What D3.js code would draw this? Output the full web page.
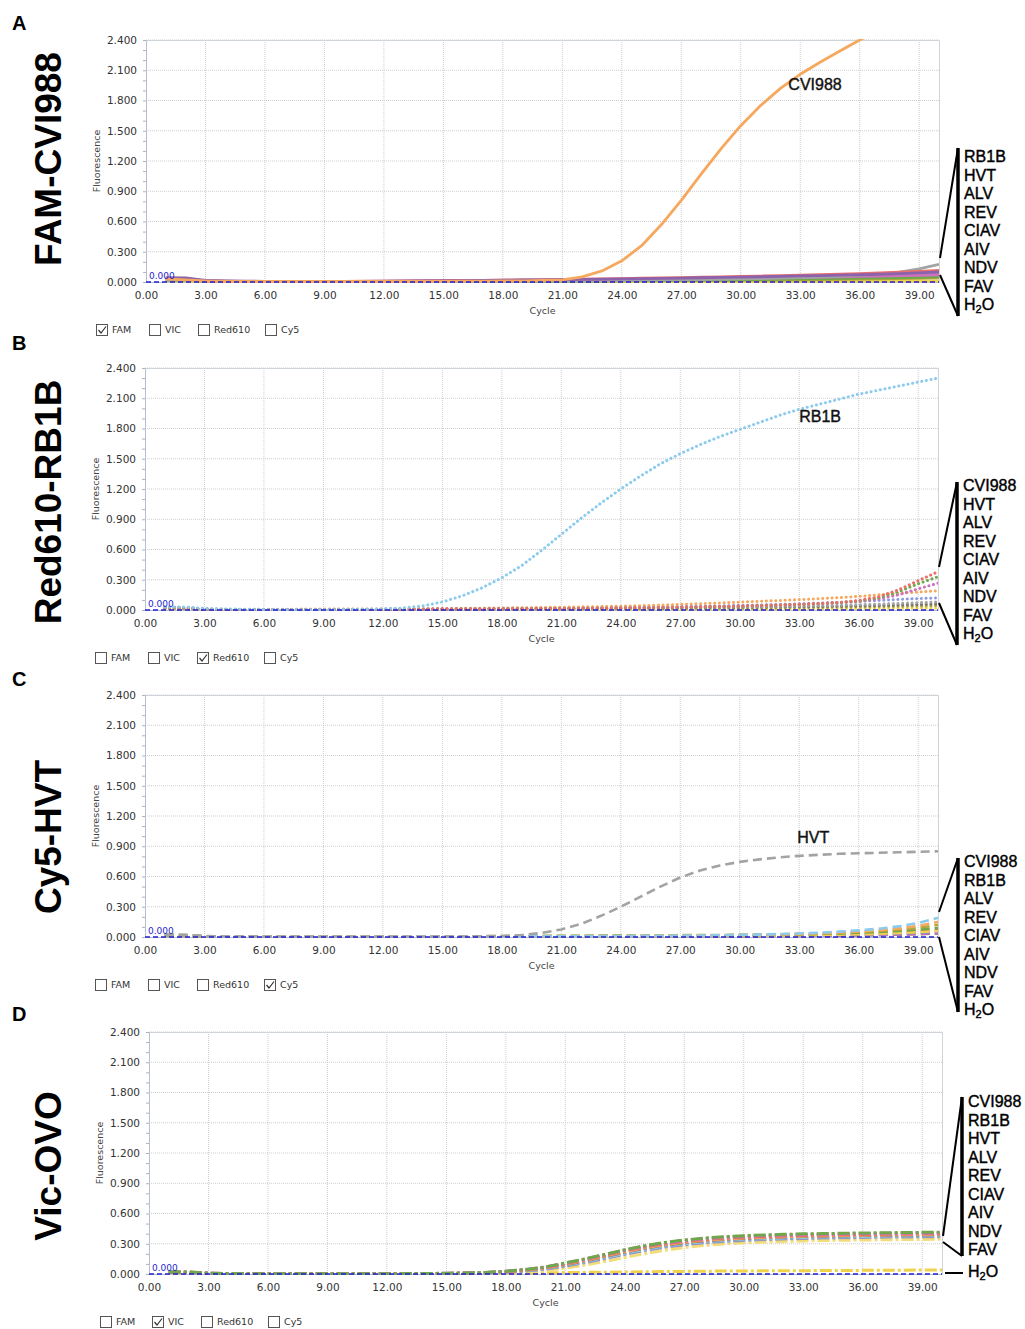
<!DOCTYPE html>
<html>
<head>
<meta charset="utf-8">
<script src="https://cdn.jsdelivr.net/npm/d3@7"></script>
<style>
  body { margin: 0; background: #fff; }
  svg { display: block; }
</style>
</head>
<body>
<svg id="fig" width="1025" height="1329"></svg>
<script>
// ---- data ----
var cycles = [1,2,3,4,5,6,7,8,9,10,11,12,13,14,15,16,17,18,19,20,
              21,22,23,24,25,26,27,28,29,30,31,32,33,34,35,36,37,38,39,40];
var xTicks = [0,3,6,9,12,15,18,21,24,27,30,33,36,39];
var yTicks = [0,0.3,0.6,0.9,1.2,1.5,1.8,2.1,2.4];
var yMinor = [0,0.1,0.2,0.3,0.4,0.5,0.6,0.7,0.8,0.9,1.0,1.1,1.2,1.3,1.4,1.5,1.6,1.7,1.8,1.9,2.0,2.1,2.2,2.3,2.4];
var channels = ["FAM", "VIC", "Red610", "Cy5"];

var colors = {
  CVI988: "#f5a85e", RB1B: "#8ccbed", HVT: "#a3a3a3", ALV: "#6fa84a", REV: "#e8706a",
  CIAV: "#8f86d0", AIV: "#cf6fbf", NDV: "#8a7560", FAV: "#b3a63a", H2O: "#f1d24c"
};

// A: FAM channel
var famCVI988 = [0.030,0.020,0.010,0.005,0.005,0.005,0.005,0.005,0.005,0.005,
  0.005,0.005,0.005,0.006,0.007,0.008,0.009,0.010,0.012,0.015,
  0.020,0.050,0.110,0.210,0.360,0.570,0.810,1.070,1.320,1.550,
  1.750,1.920,2.060,2.180,2.290,2.400,2.500,2.580,2.640,2.690];
var famRB1B = [0.040,0.040,0.015,0.010,0.008,0.007,0.006,0.006,0.006,0.006,
  0.007,0.008,0.009,0.010,0.012,0.014,0.016,0.018,0.020,0.022,
  0.024,0.026,0.028,0.030,0.033,0.036,0.039,0.042,0.045,0.048,
  0.052,0.056,0.060,0.064,0.068,0.072,0.077,0.083,0.090,0.100];
var famHVT = [0.020,0.020,0.010,0.005,0.004,0.003,0.003,0.003,0.003,0.003,
  0.003,0.003,0.003,0.004,0.005,0.006,0.007,0.008,0.009,0.010,
  0.011,0.012,0.013,0.015,0.017,0.019,0.021,0.024,0.027,0.030,
  0.034,0.038,0.043,0.049,0.056,0.065,0.078,0.098,0.130,0.175];
var famALV = [0.020,0.020,0.008,0.004,0.003,0.003,0.003,0.003,0.003,0.003,
  0.003,0.003,0.004,0.004,0.005,0.005,0.006,0.007,0.008,0.009,
  0.010,0.011,0.012,0.013,0.014,0.016,0.018,0.020,0.022,0.024,
  0.026,0.028,0.030,0.032,0.035,0.038,0.041,0.044,0.047,0.050];
var famREV = [0.040,0.035,0.012,0.008,0.007,0.006,0.006,0.006,0.006,0.007,
  0.008,0.009,0.010,0.011,0.013,0.015,0.017,0.019,0.021,0.023,
  0.025,0.028,0.031,0.034,0.037,0.040,0.043,0.047,0.051,0.055,
  0.059,0.063,0.068,0.073,0.078,0.084,0.090,0.097,0.105,0.115];
var famCIAV = [0.030,0.030,0.010,0.006,0.005,0.005,0.005,0.005,0.005,0.005,
  0.006,0.007,0.008,0.009,0.010,0.011,0.012,0.013,0.015,0.017,
  0.019,0.021,0.023,0.025,0.027,0.029,0.032,0.035,0.038,0.041,
  0.044,0.047,0.050,0.053,0.057,0.061,0.065,0.070,0.075,0.080];
var famAIV = [0.035,0.030,0.010,0.006,0.005,0.005,0.005,0.005,0.005,0.005,
  0.005,0.006,0.007,0.008,0.009,0.010,0.011,0.012,0.013,0.015,
  0.017,0.019,0.021,0.023,0.025,0.027,0.029,0.031,0.034,0.037,
  0.040,0.043,0.046,0.049,0.052,0.055,0.059,0.063,0.067,0.072];
var famNDV = [0.025,0.025,0.008,0.005,0.004,0.004,0.004,0.004,0.004,0.004,
  0.004,0.005,0.005,0.006,0.007,0.008,0.009,0.010,0.011,0.012,
  0.013,0.014,0.016,0.018,0.020,0.022,0.024,0.026,0.028,0.030,
  0.032,0.034,0.036,0.039,0.042,0.045,0.048,0.052,0.056,0.060];
var famFAV = [0.020,0.020,0.006,0.003,0.002,0.002,0.002,0.002,0.002,0.002,
  0.002,0.002,0.003,0.003,0.004,0.004,0.005,0.005,0.006,0.006,
  0.007,0.008,0.009,0.010,0.011,0.012,0.013,0.014,0.015,0.016,
  0.018,0.020,0.022,0.024,0.026,0.028,0.030,0.033,0.036,0.040];
var famH2O = [0.010,0.010,0.004,0.002,0.001,0.001,0.001,0.001,0.001,0.001,
  0.001,0.001,0.001,0.001,0.001,0.002,0.002,0.002,0.002,0.002,
  0.003,0.003,0.003,0.003,0.004,0.004,0.004,0.004,0.005,0.005,
  0.005,0.006,0.006,0.006,0.007,0.007,0.008,0.008,0.009,0.010];

// B: Red610 channel
var redRB1B = [0.030,0.030,0.015,0.010,0.008,0.006,0.006,0.006,0.006,0.006,
  0.008,0.010,0.020,0.040,0.080,0.140,0.220,0.320,0.440,0.590,
  0.750,0.910,1.060,1.200,1.330,1.450,1.550,1.640,1.720,1.790,
  1.860,1.930,1.990,2.040,2.090,2.140,2.180,2.220,2.260,2.300];
var redCVI988 = [0.020,0.020,0.010,0.008,0.008,0.008,0.008,0.009,0.009,0.010,
  0.010,0.011,0.012,0.013,0.014,0.016,0.018,0.020,0.022,0.025,
  0.028,0.031,0.034,0.038,0.043,0.049,0.056,0.063,0.070,0.078,
  0.086,0.094,0.103,0.112,0.122,0.135,0.150,0.165,0.178,0.190];
var redREV = [0.025,0.025,0.010,0.006,0.005,0.005,0.005,0.005,0.005,0.005,
  0.006,0.006,0.007,0.008,0.009,0.010,0.011,0.012,0.013,0.014,
  0.015,0.016,0.018,0.020,0.022,0.024,0.027,0.030,0.034,0.038,
  0.043,0.049,0.056,0.064,0.075,0.095,0.130,0.200,0.290,0.380];
var redALV = [0.020,0.020,0.008,0.005,0.004,0.004,0.004,0.004,0.004,0.004,
  0.005,0.005,0.006,0.007,0.008,0.009,0.010,0.011,0.012,0.013,
  0.014,0.015,0.017,0.019,0.021,0.023,0.026,0.029,0.033,0.037,
  0.042,0.048,0.055,0.063,0.073,0.090,0.120,0.180,0.260,0.330];
var redAIV = [0.025,0.020,0.008,0.005,0.004,0.004,0.004,0.004,0.004,0.005,
  0.005,0.006,0.007,0.008,0.009,0.010,0.011,0.012,0.013,0.014,
  0.015,0.016,0.018,0.020,0.022,0.025,0.028,0.031,0.035,0.039,
  0.044,0.050,0.056,0.063,0.072,0.085,0.110,0.150,0.210,0.265];
var redCIAV = [0.030,0.025,0.010,0.006,0.005,0.005,0.005,0.006,0.006,0.007,
  0.008,0.009,0.010,0.011,0.012,0.013,0.014,0.015,0.016,0.018,
  0.020,0.022,0.024,0.026,0.028,0.031,0.034,0.037,0.041,0.045,
  0.050,0.055,0.061,0.068,0.076,0.085,0.095,0.105,0.113,0.120];
var redHVT = [0.020,0.020,0.008,0.005,0.004,0.004,0.004,0.004,0.004,0.005,
  0.005,0.006,0.007,0.008,0.009,0.010,0.011,0.012,0.013,0.014,
  0.015,0.016,0.017,0.018,0.020,0.022,0.024,0.026,0.028,0.030,
  0.033,0.036,0.039,0.043,0.047,0.052,0.058,0.065,0.072,0.080];
var redNDV = [0.020,0.018,0.007,0.004,0.003,0.003,0.003,0.003,0.004,0.004,
  0.004,0.005,0.005,0.006,0.007,0.008,0.009,0.010,0.011,0.012,
  0.013,0.014,0.015,0.016,0.017,0.018,0.020,0.022,0.024,0.026,
  0.028,0.030,0.032,0.035,0.038,0.041,0.045,0.049,0.054,0.060];
var redFAV = [0.015,0.015,0.006,0.003,0.002,0.002,0.002,0.002,0.002,0.003,
  0.003,0.003,0.004,0.004,0.005,0.005,0.006,0.006,0.007,0.007,
  0.008,0.009,0.010,0.011,0.012,0.013,0.014,0.015,0.016,0.017,
  0.019,0.021,0.023,0.025,0.027,0.029,0.032,0.035,0.038,0.042];
var redH2O = [0.010,0.010,0.004,0.002,0.001,0.001,0.001,0.001,0.001,0.001,
  0.001,0.001,0.002,0.002,0.002,0.002,0.003,0.003,0.003,0.003,
  0.004,0.004,0.004,0.005,0.005,0.005,0.006,0.006,0.007,0.007,
  0.008,0.008,0.009,0.010,0.011,0.012,0.013,0.014,0.016,0.018];

// C: Cy5 channel
var cy5HVT = [0.020,0.020,0.010,0.005,0.004,0.003,0.003,0.003,0.003,0.003,
  0.003,0.003,0.003,0.003,0.004,0.005,0.007,0.010,0.020,0.040,
  0.075,0.130,0.210,0.300,0.400,0.500,0.590,0.660,0.710,0.745,
  0.770,0.790,0.805,0.815,0.825,0.830,0.835,0.840,0.845,0.850];
var cy5RB1B = [0.020,0.020,0.008,0.004,0.003,0.003,0.003,0.003,0.003,0.003,
  0.003,0.003,0.003,0.004,0.004,0.005,0.005,0.006,0.006,0.007,
  0.007,0.008,0.009,0.010,0.011,0.012,0.013,0.015,0.017,0.020,
  0.024,0.029,0.035,0.043,0.053,0.066,0.082,0.105,0.140,0.190];
var cy5CVI988 = [0.020,0.018,0.007,0.004,0.003,0.003,0.003,0.003,0.003,0.003,
  0.003,0.003,0.003,0.004,0.004,0.005,0.005,0.006,0.006,0.007,
  0.007,0.008,0.009,0.010,0.011,0.012,0.013,0.014,0.016,0.018,
  0.021,0.025,0.030,0.036,0.044,0.054,0.067,0.085,0.110,0.150];
var cy5FAV = [0.025,0.022,0.008,0.005,0.004,0.004,0.004,0.004,0.004,0.004,
  0.004,0.005,0.005,0.006,0.006,0.007,0.008,0.009,0.010,0.011,
  0.012,0.013,0.014,0.015,0.016,0.017,0.018,0.019,0.020,0.022,
  0.024,0.027,0.031,0.036,0.042,0.050,0.060,0.073,0.090,0.120];
var cy5ALV = [0.015,0.015,0.006,0.003,0.003,0.003,0.003,0.003,0.003,0.003,
  0.003,0.003,0.004,0.004,0.005,0.005,0.006,0.006,0.007,0.008,
  0.009,0.010,0.011,0.012,0.013,0.014,0.015,0.016,0.017,0.019,
  0.021,0.024,0.027,0.031,0.036,0.042,0.050,0.060,0.073,0.090];
var cy5REV = [0.015,0.015,0.006,0.003,0.003,0.003,0.003,0.003,0.003,0.003,
  0.003,0.003,0.003,0.004,0.004,0.004,0.005,0.005,0.006,0.006,
  0.007,0.007,0.008,0.009,0.010,0.011,0.012,0.013,0.014,0.015,
  0.017,0.019,0.021,0.024,0.028,0.033,0.039,0.046,0.057,0.070];
var cy5CIAV = [0.012,0.012,0.005,0.003,0.002,0.002,0.002,0.002,0.002,0.002,
  0.002,0.002,0.003,0.003,0.003,0.004,0.004,0.004,0.005,0.005,
  0.005,0.006,0.006,0.007,0.007,0.008,0.009,0.010,0.011,0.012,
  0.013,0.014,0.016,0.018,0.021,0.024,0.028,0.033,0.040,0.050];
var cy5AIV = [0.012,0.010,0.004,0.002,0.002,0.002,0.002,0.002,0.002,0.002,
  0.002,0.002,0.002,0.003,0.003,0.003,0.003,0.004,0.004,0.004,
  0.005,0.005,0.005,0.006,0.006,0.007,0.007,0.008,0.009,0.010,
  0.011,0.012,0.013,0.015,0.017,0.019,0.022,0.026,0.032,0.040];
var cy5NDV = [0.010,0.010,0.004,0.002,0.002,0.002,0.002,0.002,0.002,0.002,
  0.002,0.002,0.002,0.002,0.003,0.003,0.003,0.003,0.004,0.004,
  0.004,0.005,0.005,0.005,0.006,0.006,0.007,0.007,0.008,0.008,
  0.009,0.010,0.011,0.012,0.014,0.016,0.019,0.023,0.028,0.035];
var cy5H2O = [0.010,0.010,0.004,0.002,0.002,0.002,0.002,0.002,0.002,0.002,
  0.002,0.002,0.002,0.003,0.003,0.003,0.004,0.004,0.004,0.005,
  0.005,0.006,0.006,0.007,0.007,0.008,0.009,0.010,0.011,0.012,
  0.013,0.015,0.017,0.020,0.023,0.027,0.032,0.039,0.048,0.060];

// D: VIC channel (internal control OVO)
var vicALV = [0.020,0.020,0.008,0.004,0.003,0.003,0.003,0.003,0.003,0.003,
  0.003,0.003,0.004,0.005,0.007,0.010,0.016,0.028,0.045,0.070,
  0.110,0.150,0.195,0.240,0.280,0.312,0.337,0.356,0.370,0.380,
  0.387,0.393,0.398,0.401,0.404,0.407,0.409,0.411,0.413,0.415];
var vicAIV = [0.020,0.018,0.007,0.004,0.003,0.003,0.003,0.003,0.003,0.003,
  0.003,0.003,0.004,0.005,0.007,0.010,0.016,0.027,0.044,0.069,
  0.108,0.148,0.193,0.238,0.278,0.309,0.333,0.351,0.364,0.374,
  0.381,0.387,0.392,0.395,0.398,0.401,0.403,0.405,0.407,0.408];
var vicREV = [0.018,0.018,0.007,0.004,0.003,0.003,0.003,0.003,0.003,0.003,
  0.003,0.003,0.004,0.005,0.006,0.009,0.014,0.025,0.041,0.065,
  0.102,0.141,0.185,0.229,0.268,0.299,0.323,0.341,0.354,0.364,
  0.371,0.377,0.382,0.386,0.389,0.392,0.394,0.396,0.398,0.400];
var vicCVI988 = [0.020,0.020,0.008,0.004,0.003,0.003,0.003,0.003,0.003,0.003,
  0.003,0.003,0.004,0.005,0.006,0.009,0.013,0.023,0.038,0.061,
  0.097,0.135,0.178,0.221,0.260,0.291,0.315,0.333,0.347,0.357,
  0.364,0.370,0.375,0.379,0.382,0.385,0.388,0.390,0.392,0.394];
var vicNDV = [0.018,0.016,0.006,0.004,0.003,0.003,0.003,0.003,0.003,0.003,
  0.003,0.003,0.004,0.004,0.006,0.008,0.013,0.022,0.037,0.059,
  0.094,0.131,0.173,0.216,0.255,0.286,0.310,0.328,0.342,0.352,
  0.360,0.366,0.371,0.375,0.378,0.381,0.384,0.386,0.388,0.390];
var vicRB1B = [0.016,0.016,0.006,0.003,0.003,0.003,0.003,0.003,0.003,0.003,
  0.003,0.003,0.003,0.004,0.005,0.007,0.011,0.019,0.033,0.054,
  0.087,0.123,0.164,0.206,0.245,0.277,0.301,0.320,0.334,0.344,
  0.352,0.358,0.363,0.367,0.370,0.373,0.376,0.378,0.380,0.382];
var vicCIAV = [0.016,0.015,0.006,0.003,0.003,0.003,0.003,0.003,0.003,0.003,
  0.003,0.003,0.003,0.004,0.005,0.007,0.010,0.018,0.031,0.051,
  0.083,0.118,0.158,0.200,0.239,0.271,0.296,0.315,0.329,0.339,
  0.347,0.353,0.358,0.362,0.365,0.368,0.371,0.373,0.375,0.377];
var vicHVT = [0.015,0.015,0.006,0.003,0.003,0.003,0.003,0.003,0.003,0.003,
  0.003,0.003,0.003,0.004,0.005,0.006,0.010,0.017,0.029,0.048,
  0.079,0.113,0.152,0.194,0.233,0.265,0.290,0.309,0.323,0.333,
  0.341,0.347,0.352,0.356,0.359,0.362,0.365,0.367,0.369,0.371];
var vicFAV = [0.014,0.014,0.005,0.003,0.002,0.002,0.002,0.002,0.002,0.002,
  0.002,0.002,0.003,0.003,0.004,0.005,0.007,0.012,0.020,0.034,
  0.058,0.088,0.124,0.163,0.201,0.235,0.262,0.283,0.298,0.309,
  0.317,0.323,0.328,0.332,0.335,0.337,0.339,0.341,0.343,0.345];
var vicH2O = [0.010,0.010,0.004,0.002,0.002,0.002,0.002,0.002,0.002,0.002,
  0.002,0.002,0.003,0.003,0.004,0.005,0.006,0.008,0.010,0.012,
  0.014,0.016,0.018,0.020,0.022,0.024,0.026,0.028,0.029,0.030,
  0.031,0.032,0.033,0.034,0.035,0.036,0.037,0.038,0.039,0.040];

// legend name lists
var legendA = ["RB1B","HVT","ALV","REV","CIAV","AIV","NDV","FAV","H2O"];
var legendB = ["CVI988","HVT","ALV","REV","CIAV","AIV","NDV","FAV","H2O"];
var legendC = ["CVI988","RB1B","ALV","REV","CIAV","AIV","NDV","FAV","H2O"];
var legendD = ["CVI988","RB1B","HVT","ALV","REV","CIAV","AIV","NDV","FAV"];

// ---- layout per panel ----
var panels = [
  { letter: "A", letterY: 30, title: "FAM-CVI988", titleY: 159, left: 146, top: 40,
    dash: null, sw: 2.8, cap: "butt", checked: "FAM", boxY: 324, boxX: [96, 149, 198, 265],
    series: [["H2O", famH2O], ["FAV", famFAV], ["NDV", famNDV], ["ALV", famALV], ["CIAV", famCIAV],
             ["AIV", famAIV], ["HVT", famHVT], ["REV", famREV], ["RB1B", famRB1B], ["CVI988", famCVI988]],
    seriesColor: { RB1B: "#8c62ad", CIAV: "#9a7cc0" },
    note: { text: "CVI988", cycle: 32.4, value: 1.95 },
    legend: { names: legendA, x: 958, y0: 148, y1: 316, from0: 258, from1: 275, textY: 157 } },
  { letter: "B", letterY: 350, title: "Red610-RB1B", titleY: 502, left: 145, top: 368,
    dash: "0.1,4.6", sw: 3, cap: "round", checked: "Red610", boxY: 652, boxX: [95, 148, 197, 264],
    series: [["H2O", redH2O], ["FAV", redFAV], ["NDV", redNDV], ["HVT", redHVT], ["CIAV", redCIAV],
             ["CVI988", redCVI988], ["AIV", redAIV], ["ALV", redALV], ["REV", redREV], ["RB1B", redRB1B]],
    seriesColor: { CIAV: "#8d9be0", NDV: "#77706a" },
    note: { text: "RB1B", cycle: 33.0, value: 1.91 },
    legend: { names: legendB, x: 957, y0: 482, y1: 645, from0: 567, from1: 603, textY: 486 } },
  { letter: "C", letterY: 686, title: "Cy5-HVT", titleY: 837, left: 145, top: 695,
    dash: "9,5", sw: 2.6, cap: "butt", checked: "Cy5", boxY: 979, boxX: [95, 148, 197, 264],
    series: [["NDV", cy5NDV], ["AIV", cy5AIV], ["CIAV", cy5CIAV], ["REV", cy5REV], ["H2O", cy5H2O],
             ["ALV", cy5ALV], ["FAV", cy5FAV], ["CVI988", cy5CVI988], ["RB1B", cy5RB1B], ["HVT", cy5HVT]],
    seriesColor: {},
    note: { text: "HVT", cycle: 32.9, value: 0.97 },
    legend: { names: legendC, x: 958, y0: 858, y1: 1012, from0: 912, from1: 937, textY: 862 } },
  { letter: "D", letterY: 1021, title: "Vic-OVO", titleY: 1166, left: 149, top: 1032,
    dash: "12,3,3,3", sw: 3, cap: "butt", checked: "VIC", boxY: 1316, boxX: [100, 152, 201, 268],
    series: [["H2O", vicH2O], ["FAV", vicFAV], ["HVT", vicHVT], ["CIAV", vicCIAV], ["RB1B", vicRB1B],
             ["NDV", vicNDV], ["CVI988", vicCVI988], ["REV", vicREV], ["AIV", vicAIV], ["ALV", vicALV]],
    seriesColor: { FAV: "#f3dc7a" },
    note: null,
    legend: { names: legendD, x: 962, y0: 1097, y1: 1256, from0: 1236, from1: 1242, textY: 1102,
              h2o: { y: 1273 } } }
];

var svg = d3.select("#fig");
var plotW = 793, plotH = 242;
var gridColor = "#cdcdcd", axisColor = "#b7bfcd", tickText = "#333";

function nameText(sel, name) {
  // H2O with subscript 2
  if (name === "H2O") {
    sel.append("tspan").text("H");
    sel.append("tspan").text("2").attr("font-size", 11).attr("dy", 4);
    sel.append("tspan").text("O").attr("dy", -4);
  } else {
    sel.text(name);
  }
}

function drawPanel(p) {
  var g = svg.append("g");
  var x = d3.scaleLinear().domain([0, 40]).range([p.left, p.left + plotW]);
  var y = d3.scaleLinear().domain([0, 2.4]).range([p.top + plotH, p.top]);

  svg.append("clipPath").attr("id", "clip" + p.letter)
    .append("rect").attr("x", p.left).attr("y", p.top - 1).attr("width", plotW).attr("height", plotH + 2);

  // grid
  g.selectAll(".gx").data(xTicks.slice(1)).enter().append("line")
    .attr("x1", d => x(d)).attr("x2", d => x(d)).attr("y1", p.top).attr("y2", p.top + plotH)
    .attr("stroke", gridColor).attr("stroke-dasharray", "1,1");
  g.selectAll(".gy").data(yTicks.slice(1)).enter().append("line")
    .attr("x1", p.left).attr("x2", p.left + plotW).attr("y1", d => y(d)).attr("y2", d => y(d))
    .attr("stroke", gridColor).attr("stroke-dasharray", "1,1");
  g.append("path")
    .attr("d", "M" + p.left + "," + (p.top + 0.5) + "H" + (p.left + plotW + 0.5) + "V" + (p.top + plotH))
    .attr("fill", "none").attr("stroke", "#cfd3da");

  // y axis
  var ya = g.append("g").attr("transform", "translate(" + p.left + ",0)")
    .call(d3.axisLeft(y).tickValues(yTicks).tickSize(0).tickPadding(9).tickFormat(d3.format(".3f")));
  ya.select(".domain").attr("stroke", axisColor);
  ya.selectAll("text").attr("font-family", "DejaVu Sans, Verdana, sans-serif").attr("font-size", 10.5).attr("fill", tickText);
  var ym = g.append("g").attr("transform", "translate(" + p.left + ",0)")
    .call(d3.axisLeft(y).tickValues(yMinor).tickSize(3).tickFormat(""));
  ym.select(".domain").remove();
  ym.selectAll("line").attr("stroke", "#aab2c0");

  // x axis
  var xa = g.append("g").attr("transform", "translate(0," + (p.top + plotH) + ")")
    .call(d3.axisBottom(x).tickValues(xTicks).tickSize(0).tickPadding(10).tickFormat(d3.format(".2f")));
  xa.select(".domain").attr("stroke", axisColor);
  xa.selectAll("text").attr("font-family", "DejaVu Sans, Verdana, sans-serif").attr("font-size", 10.5).attr("fill", tickText);

  // axis titles
  g.append("text").attr("transform", "translate(" + (p.left - 46) + "," + (p.top + plotH / 2) + ") rotate(-90)")
    .attr("text-anchor", "middle").attr("font-family", "DejaVu Sans, sans-serif").attr("font-size", 9.5)
    .attr("fill", "#444").text("Fluorescence");
  g.append("text").attr("x", x(20)).attr("y", p.top + plotH + 32)
    .attr("text-anchor", "middle").attr("font-family", "DejaVu Sans, sans-serif").attr("font-size", 9.5)
    .attr("fill", "#444").text("Cycle");

  // curves (straight segments between cycle reads, as the instrument software draws them)
  var line = d3.line().x((d, i) => x(cycles[i])).y(d => y(d));
  g.append("g").attr("clip-path", "url(#clip" + p.letter + ")")
    .selectAll("path").data(p.series).enter().append("path")
    .attr("d", d => line(d[1]))
    .attr("fill", "none")
    .attr("stroke", d => p.seriesColor[d[0]] || colors[d[0]])
    .attr("stroke-width", p.sw)
    .attr("stroke-linecap", p.cap)
    .attr("stroke-linejoin", "round")
    .attr("stroke-dasharray", p.dash);

  // threshold line at 0.000
  g.append("line").attr("x1", x(0)).attr("x2", x(40)).attr("y1", y(0)).attr("y2", y(0))
    .attr("stroke", "#1f1fd0").attr("stroke-width", 1.6).attr("stroke-dasharray", "5,3");
  g.append("text").attr("x", x(0) + 3).attr("y", y(0) - 3)
    .attr("font-family", "DejaVu Sans, sans-serif").attr("font-size", 9).attr("fill", "#1f1fd0")
    .text("0.000");

  // curve annotation
  if (p.note) {
    g.append("text").attr("x", x(p.note.cycle)).attr("y", y(p.note.value))
      .attr("dominant-baseline", "middle")
      .attr("font-family", "Liberation Sans, Arial, sans-serif").attr("font-size", 16).attr("fill", "#111")
      .attr("stroke", "#111").attr("stroke-width", 0.4)
      .text(p.note.text);
  }

  // bracket legend on the right
  var L = p.legend;
  g.append("line").attr("x1", L.x).attr("x2", L.x).attr("y1", L.y0).attr("y2", L.y1)
    .attr("stroke", "#000").attr("stroke-width", 3.5);
  g.append("line").attr("x1", p.left + plotW + 1).attr("y1", L.from0).attr("x2", L.x).attr("y2", L.y0)
    .attr("stroke", "#000").attr("stroke-width", 2);
  g.append("line").attr("x1", p.left + plotW + 1).attr("y1", L.from1).attr("x2", L.x).attr("y2", L.y1)
    .attr("stroke", "#000").attr("stroke-width", 2);
  L.names.forEach(function (n, i) {
    g.append("text").attr("x", L.x + 6).attr("y", L.textY + 1 + i * 18.5)
      .attr("dominant-baseline", "middle")
      .attr("font-family", "Liberation Sans, Arial, sans-serif").attr("font-size", 16).attr("fill", "#000")
      .attr("stroke", "#000").attr("stroke-width", 0.4)
      .call(nameText, n);
  });
  if (L.h2o) {
    g.append("line").attr("x1", p.left + plotW + 3).attr("x2", L.x + 1).attr("y1", L.h2o.y).attr("y2", L.h2o.y)
      .attr("stroke", "#000").attr("stroke-width", 2);
    g.append("text").attr("x", L.x + 6).attr("y", L.h2o.y)
      .attr("dominant-baseline", "middle")
      .attr("font-family", "Liberation Sans, Arial, sans-serif").attr("font-size", 16).attr("fill", "#000")
      .attr("stroke", "#000").attr("stroke-width", 0.4)
      .call(nameText, "H2O");
  }

  // channel check boxes
  channels.forEach(function (c, i) {
    var bx = p.boxX[i];
    g.append("rect").attr("x", bx + 0.5).attr("y", p.boxY + 0.5).attr("width", 11).attr("height", 11)
      .attr("fill", "#fff").attr("stroke", "#555");
    if (c === p.checked) {
      g.append("path").attr("d", "M" + (bx + 2.5) + "," + (p.boxY + 6) + " L" + (bx + 5) + "," + (p.boxY + 9) +
        " L" + (bx + 10) + "," + (p.boxY + 2.5))
        .attr("fill", "none").attr("stroke", "#333").attr("stroke-width", 1.2);
    }
    g.append("text").attr("x", bx + 16).attr("y", p.boxY + 6).attr("dominant-baseline", "middle")
      .attr("font-family", "DejaVu Sans, Verdana, sans-serif").attr("font-size", 9.5).attr("fill", "#333")
      .text(c);
  });

  // panel letter and rotated panel title
  g.append("text").attr("x", 12).attr("y", p.letterY)
    .attr("font-family", "Liberation Sans, Arial, sans-serif").attr("font-weight", "bold").attr("font-size", 20)
    .text(p.letter);
  g.append("text").attr("transform", "translate(61," + p.titleY + ") rotate(-90)")
    .attr("text-anchor", "middle")
    .attr("font-family", "Liberation Sans, Arial, sans-serif").attr("font-weight", "bold").attr("font-size", 37)
    .text(p.title);
}

panels.forEach(drawPanel);
</script>
</body>
</html>
